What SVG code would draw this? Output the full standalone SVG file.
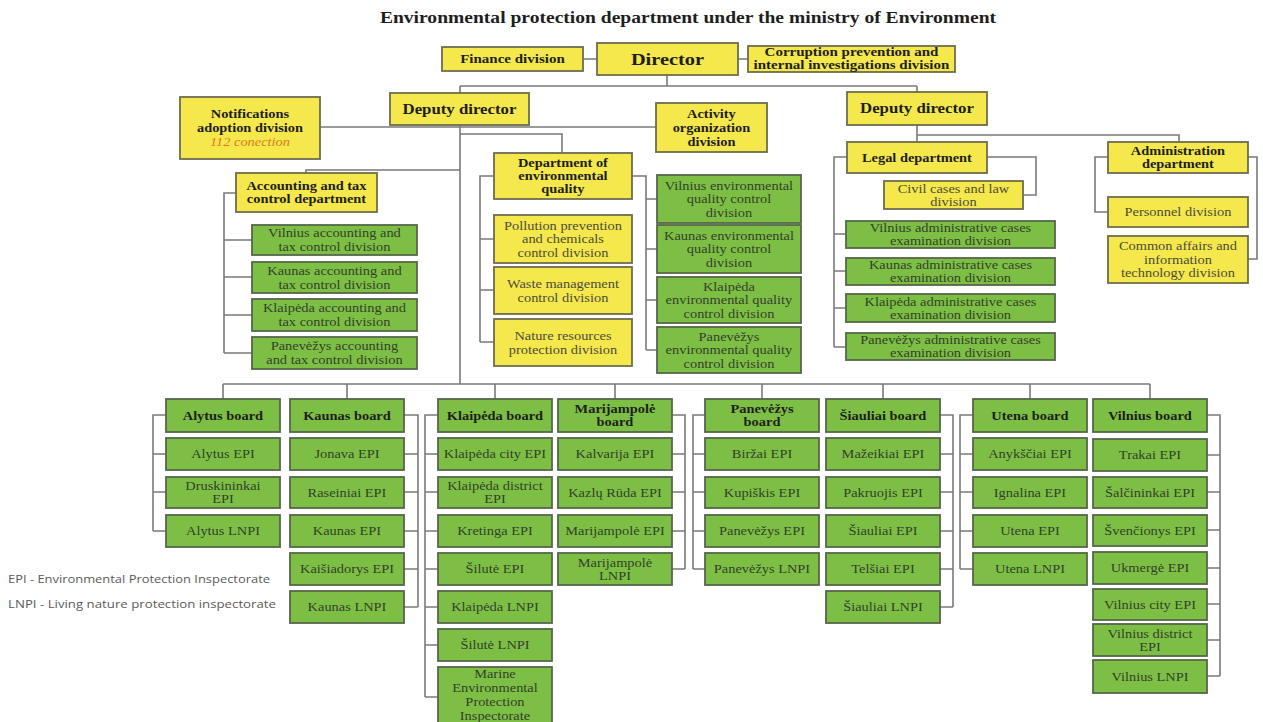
<svg xmlns="http://www.w3.org/2000/svg" width="1263" height="722" viewBox="0 0 1263 722">
<style>
.y{fill:#f4e84c;stroke:#6e6c4e;stroke-width:1.8}
.g{fill:#7dbf45;stroke:#56664a;stroke-width:1.8}
.c{fill:none;stroke:#7a7a7a;stroke-width:1.6}
text{font-family:"Liberation Serif","Times New Roman",serif;font-size:12px;fill:#33402a;text-anchor:middle;transform-box:fill-box;transform-origin:center;transform:scaleX(1.2)}
.b{font-weight:bold;fill:#1e1e1e}
.yt{fill:#4d4b38}
.o{font-style:italic;fill:#e07a1a;font-weight:normal}
.lg{font-family:"Open Sans","Liberation Sans",sans-serif;font-size:10px;fill:#5a5a5a;text-anchor:start;transform:none}
</style>
<rect width="1263" height="722" fill="#ffffff"/>
<text class="b" x="688" y="23" style="font-size:16.3px">Environmental protection department under the ministry of Environment</text>

<g id="connectors">
<path class="c" d="M583 59H597M738 59H748M667 75V86M460 86H917M460 86V93M917 86V92"/>
<path class="c" d="M320 127H656M460 125V384M460 134H562V153M460 170H306V173"/>
<path class="c" d="M236 193H224V353M224 240H252M224 277H252M224 315H252M224 353H252"/>
<path class="c" d="M494 176H480V342M480 239H494M480 290H494M480 342H494"/>
<path class="c" d="M632 176H646V350M646 199H657M646 249H657M646 300H657M646 350H657"/>
<path class="c" d="M917 125V142M917 135H1179V142"/>
<path class="c" d="M847 157H834V347M834 234H846M834 271H846M834 308H846M834 347H846M987 157H1036V195H1023"/>
<path class="c" d="M1108 157H1095V212H1108M1248 157H1257V259H1248"/>
<path class="c" d="M223 384H1150M223 384V399M347 384V399M495 384V399M615 384V399M762 384V399M883 384V399M1030 384V399M1150 384V399"/>
<path class="c" d="M166 415H153V531M153 454H166M153 492H166M153 531H166"/>
<path class="c" d="M404 415H418V607M404 454H418M404 492H418M404 531H418M404 569H418M404 607H418"/>
<path class="c" d="M438 415H425V697M425 454H438M425 492H438M425 531H438M425 569H438M425 607H438M425 645H438M425 697H438"/>
<path class="c" d="M672 415H685V569M672 454H685M672 492H685M672 531H685M672 569H685"/>
<path class="c" d="M705 415H693V569M693 454H705M693 492H705M693 531H705M693 569H705"/>
<path class="c" d="M940 415H953V607M940 454H953M940 492H953M940 531H953M940 569H953M940 607H953"/>
<path class="c" d="M973 415H960V569M960 454H973M960 492H973M960 531H973M960 569H973"/>
<path class="c" d="M1207 415H1220V676M1207 455H1220M1207 492H1220M1207 530H1220M1207 568H1220M1207 604H1220M1207 640H1220M1207 676H1220"/>
</g>

<g id="n-finance"><rect class="y" x="442" y="47" width="141" height="24"/><text class="b" x="512.5" y="63.3" style="font-size:12.5px">Finance division</text></g>
<g id="n-director"><rect class="y" x="597" y="43" width="141" height="32"/><text class="b" x="667.5" y="65" style="font-size:17px">Director</text></g>
<g id="n-corruption"><rect class="y" x="748" y="46" width="207" height="26"/><text class="b" x="851.5" style="font-size:12.5px"><tspan x="851.5" y="56.5">Corruption prevention and</tspan><tspan x="851.5" y="69.5">internal investigations division</tspan></text></g>
<g id="n-deputy1"><rect class="y" x="390" y="93" width="139" height="32"/><text class="b" x="459.5" y="114" style="font-size:14px">Deputy director</text></g>
<g id="n-deputy2"><rect class="y" x="847" y="92" width="140" height="33"/><text class="b" x="917" y="113.5" style="font-size:14px">Deputy director</text></g>
<g id="n-notifications"><rect class="y" x="180" y="97" width="140" height="62"/><text class="b" x="250"><tspan x="250" y="118.2">Notifications</tspan><tspan x="250" y="132.2">adoption division</tspan><tspan class="o" x="250" y="146.2">112 conection</tspan></text></g>
<g id="n-activity"><rect class="y" x="656" y="103" width="111" height="49"/><text class="b" x="711.5"><tspan x="711.5" y="117.7">Activity</tspan><tspan x="711.5" y="131.7">organization</tspan><tspan x="711.5" y="145.7">division</tspan></text></g>
<g id="n-envquality"><rect class="y" x="494" y="153" width="138" height="46"/><text class="b" x="563"><tspan x="563" y="167.2">Department of</tspan><tspan x="563" y="180.2">environmental</tspan><tspan x="563" y="193.2">quality</tspan></text></g>
<g id="n-accounting"><rect class="y" x="236" y="173" width="141" height="39"/><text class="b" x="306.5"><tspan x="306.5" y="190.2">Accounting and tax</tspan><tspan x="306.5" y="203.2">control department</tspan></text></g>

<g id="n-acc-vilnius"><rect class="g" x="252" y="225" width="165" height="30"/><text x="334.5"><tspan x="334.5" y="237.2">Vilnius accounting and</tspan><tspan x="334.5" y="251.2">tax control division</tspan></text></g>
<g id="n-acc-kaunas"><rect class="g" x="252" y="262" width="165" height="31"/><text x="334.5"><tspan x="334.5" y="274.7">Kaunas accounting and</tspan><tspan x="334.5" y="288.7">tax control division</tspan></text></g>
<g id="n-acc-klaipeda"><rect class="g" x="252" y="299" width="165" height="32"/><text x="334.5"><tspan x="334.5" y="312.2">Klaipėda accounting and</tspan><tspan x="334.5" y="326.2">tax control division</tspan></text></g>
<g id="n-acc-panevezys"><rect class="g" x="252" y="337" width="165" height="32"/><text x="334.5"><tspan x="334.5" y="350.2">Panevėžys accounting</tspan><tspan x="334.5" y="364.2">and tax control division</tspan></text></g>

<g id="n-pollution"><rect class="y" x="494" y="215" width="138" height="48"/><text class="yt" x="563"><tspan x="563" y="229.7">Pollution prevention</tspan><tspan x="563" y="243.2">and chemicals</tspan><tspan x="563" y="256.7">control division</tspan></text></g>
<g id="n-waste"><rect class="y" x="494" y="267" width="138" height="47"/><text class="yt" x="563"><tspan x="563" y="287.7">Waste management</tspan><tspan x="563" y="301.7">control division</tspan></text></g>
<g id="n-nature"><rect class="y" x="494" y="319" width="138" height="47"/><text class="yt" x="563"><tspan x="563" y="339.7">Nature resources</tspan><tspan x="563" y="353.7">protection division</tspan></text></g>

<g id="n-eq-vilnius"><rect class="g" x="657" y="175" width="144" height="48"/><text x="729"><tspan x="729" y="189.7">Vilnius environmental</tspan><tspan x="729" y="203.2">quality control</tspan><tspan x="729" y="216.7">division</tspan></text></g>
<g id="n-eq-kaunas"><rect class="g" x="657" y="225" width="144" height="48"/><text x="729"><tspan x="729" y="239.7">Kaunas environmental</tspan><tspan x="729" y="253.2">quality control</tspan><tspan x="729" y="266.7">division</tspan></text></g>
<g id="n-eq-klaipeda"><rect class="g" x="657" y="277" width="144" height="46"/><text x="729"><tspan x="729" y="290.7">Klaipėda</tspan><tspan x="729" y="304.2">environmental quality</tspan><tspan x="729" y="317.7">control division</tspan></text></g>
<g id="n-eq-panevezys"><rect class="g" x="657" y="327" width="144" height="46"/><text x="729"><tspan x="729" y="340.7">Panevėžys</tspan><tspan x="729" y="354.2">environmental quality</tspan><tspan x="729" y="367.7">control division</tspan></text></g>

<g id="n-legal"><rect class="y" x="847" y="142" width="140" height="31"/><text class="b" x="917" y="161.7">Legal department</text></g>
<g id="n-civil"><rect class="y" x="884" y="181" width="139" height="28"/><text class="yt" x="953.5"><tspan x="953.5" y="192.7">Civil cases and law</tspan><tspan x="953.5" y="205.7">division</tspan></text></g>
<g id="n-adm-vilnius"><rect class="g" x="846" y="221" width="209" height="27"/><text x="950.5"><tspan x="950.5" y="232.2">Vilnius administrative cases</tspan><tspan x="950.5" y="245.2">examination division</tspan></text></g>
<g id="n-adm-kaunas"><rect class="g" x="846" y="258" width="209" height="27"/><text x="950.5"><tspan x="950.5" y="269.2">Kaunas administrative cases</tspan><tspan x="950.5" y="282.2">examination division</tspan></text></g>
<g id="n-adm-klaipeda"><rect class="g" x="846" y="294" width="209" height="28"/><text x="950.5"><tspan x="950.5" y="305.7">Klaipėda administrative cases</tspan><tspan x="950.5" y="318.7">examination division</tspan></text></g>
<g id="n-adm-panevezys"><rect class="g" x="846" y="333" width="209" height="27"/><text x="950.5"><tspan x="950.5" y="344.2">Panevėžys administrative cases</tspan><tspan x="950.5" y="357.2">examination division</tspan></text></g>

<g id="n-administration"><rect class="y" x="1108" y="142" width="140" height="31"/><text class="b" x="1178"><tspan x="1178" y="155.2">Administration</tspan><tspan x="1178" y="168.2">department</tspan></text></g>
<g id="n-personnel"><rect class="y" x="1108" y="197" width="140" height="30"/><text class="yt" x="1178" y="216.2">Personnel division</text></g>
<g id="n-common"><rect class="y" x="1108" y="236" width="140" height="47"/><text class="yt" x="1178"><tspan x="1178" y="250.2">Common affairs and</tspan><tspan x="1178" y="263.7">information</tspan><tspan x="1178" y="277.2">technology division</tspan></text></g>

<!-- Alytus -->
<g id="n-alytus-board"><rect class="g" x="166" y="399" width="114" height="33"/><text class="b" x="223" y="419.7">Alytus board</text></g>
<g id="n-alytus-epi"><rect class="g" x="166" y="438" width="114" height="32"/><text x="223" y="458.2">Alytus EPI</text></g>
<g id="n-druskininkai"><rect class="g" x="166" y="477" width="114" height="31"/><text x="223"><tspan x="223" y="490.2">Druskininkai</tspan><tspan x="223" y="503.2">EPI</tspan></text></g>
<g id="n-alytus-lnpi"><rect class="g" x="166" y="515" width="114" height="32"/><text x="223" y="535.2">Alytus LNPI</text></g>
<!-- Kaunas -->
<g id="n-kaunas-board"><rect class="g" x="290" y="399" width="114" height="33"/><text class="b" x="347" y="419.7">Kaunas board</text></g>
<g id="n-jonava"><rect class="g" x="290" y="438" width="114" height="32"/><text x="347" y="458.2">Jonava EPI</text></g>
<g id="n-raseiniai"><rect class="g" x="290" y="477" width="114" height="31"/><text x="347" y="496.7">Raseiniai EPI</text></g>
<g id="n-kaunas-epi"><rect class="g" x="290" y="515" width="114" height="32"/><text x="347" y="535.2">Kaunas EPI</text></g>
<g id="n-kaisiadorys"><rect class="g" x="290" y="553" width="114" height="32"/><text x="347" y="573.2">Kaišiadorys EPI</text></g>
<g id="n-kaunas-lnpi"><rect class="g" x="290" y="591" width="114" height="32"/><text x="347" y="611.2">Kaunas LNPI</text></g>
<!-- Klaipeda -->
<g id="n-klaipeda-board"><rect class="g" x="438" y="399" width="114" height="33"/><text class="b" x="495" y="419.7">Klaipėda board</text></g>
<g id="n-klaipeda-city"><rect class="g" x="438" y="438" width="114" height="32"/><text x="495" y="458.2">Klaipėda city EPI</text></g>
<g id="n-klaipeda-district"><rect class="g" x="438" y="477" width="114" height="31"/><text x="495"><tspan x="495" y="490.2">Klaipėda district</tspan><tspan x="495" y="503.2">EPI</tspan></text></g>
<g id="n-kretinga"><rect class="g" x="438" y="515" width="114" height="32"/><text x="495" y="535.2">Kretinga EPI</text></g>
<g id="n-silute-epi"><rect class="g" x="438" y="553" width="114" height="32"/><text x="495" y="573.2">Šilutė EPI</text></g>
<g id="n-klaipeda-lnpi"><rect class="g" x="438" y="591" width="114" height="32"/><text x="495" y="611.2">Klaipėda LNPI</text></g>
<g id="n-silute-lnpi"><rect class="g" x="438" y="629" width="114" height="32"/><text x="495" y="649.2">Šilutė LNPI</text></g>
<g id="n-marine"><rect class="g" x="438" y="667" width="114" height="60"/><text x="495"><tspan x="495" y="678">Marine</tspan><tspan x="495" y="692">Environmental</tspan><tspan x="495" y="706">Protection</tspan><tspan x="495" y="720">Inspectorate</tspan></text></g>
<!-- Marijampole -->
<g id="n-marijampole-board"><rect class="g" x="558" y="399" width="114" height="33"/><text class="b" x="615"><tspan x="615" y="413.2">Marijampolė</tspan><tspan x="615" y="426.2">board</tspan></text></g>
<g id="n-kalvarija"><rect class="g" x="558" y="438" width="114" height="32"/><text x="615" y="458.2">Kalvarija EPI</text></g>
<g id="n-kazlu-ruda"><rect class="g" x="558" y="477" width="114" height="31"/><text x="615" y="496.7">Kazlų Rūda EPI</text></g>
<g id="n-marijampole-epi"><rect class="g" x="558" y="515" width="114" height="32"/><text x="615" y="535.2">Marijampolė EPI</text></g>
<g id="n-marijampole-lnpi"><rect class="g" x="558" y="553" width="114" height="32"/><text x="615"><tspan x="615" y="566.7">Marijampolė</tspan><tspan x="615" y="579.7">LNPI</tspan></text></g>
<!-- Panevezys -->
<g id="n-panevezys-board"><rect class="g" x="705" y="399" width="114" height="33"/><text class="b" x="762"><tspan x="762" y="413.2">Panevėžys</tspan><tspan x="762" y="426.2">board</tspan></text></g>
<g id="n-birzai"><rect class="g" x="705" y="438" width="114" height="32"/><text x="762" y="458.2">Biržai EPI</text></g>
<g id="n-kupiskis"><rect class="g" x="705" y="477" width="114" height="31"/><text x="762" y="496.7">Kupiškis EPI</text></g>
<g id="n-panevezys-epi"><rect class="g" x="705" y="515" width="114" height="32"/><text x="762" y="535.2">Panevėžys EPI</text></g>
<g id="n-panevezys-lnpi"><rect class="g" x="705" y="553" width="114" height="32"/><text x="762" y="573.2">Panevėžys LNPI</text></g>
<!-- Siauliai -->
<g id="n-siauliai-board"><rect class="g" x="826" y="399" width="114" height="33"/><text class="b" x="883" y="419.7">Šiauliai board</text></g>
<g id="n-mazeikiai"><rect class="g" x="826" y="438" width="114" height="32"/><text x="883" y="458.2">Mažeikiai EPI</text></g>
<g id="n-pakruojis"><rect class="g" x="826" y="477" width="114" height="31"/><text x="883" y="496.7">Pakruojis EPI</text></g>
<g id="n-siauliai-epi"><rect class="g" x="826" y="515" width="114" height="32"/><text x="883" y="535.2">Šiauliai EPI</text></g>
<g id="n-telsiai"><rect class="g" x="826" y="553" width="114" height="32"/><text x="883" y="573.2">Telšiai EPI</text></g>
<g id="n-siauliai-lnpi"><rect class="g" x="826" y="591" width="114" height="32"/><text x="883" y="611.2">Šiauliai LNPI</text></g>
<!-- Utena -->
<g id="n-utena-board"><rect class="g" x="973" y="399" width="114" height="33"/><text class="b" x="1030" y="419.7">Utena board</text></g>
<g id="n-anyksciai"><rect class="g" x="973" y="438" width="114" height="32"/><text x="1030" y="458.2">Anykščiai EPI</text></g>
<g id="n-ignalina"><rect class="g" x="973" y="477" width="114" height="31"/><text x="1030" y="496.7">Ignalina EPI</text></g>
<g id="n-utena-epi"><rect class="g" x="973" y="515" width="114" height="32"/><text x="1030" y="535.2">Utena EPI</text></g>
<g id="n-utena-lnpi"><rect class="g" x="973" y="553" width="114" height="32"/><text x="1030" y="573.2">Utena LNPI</text></g>
<!-- Vilnius -->
<g id="n-vilnius-board"><rect class="g" x="1093" y="399" width="114" height="33"/><text class="b" x="1150" y="419.7">Vilnius board</text></g>
<g id="n-trakai"><rect class="g" x="1093" y="439" width="114" height="32"/><text x="1150" y="459.2">Trakai EPI</text></g>
<g id="n-salcininkai"><rect class="g" x="1093" y="477" width="114" height="31"/><text x="1150" y="496.7">Šalčininkai EPI</text></g>
<g id="n-svencionys"><rect class="g" x="1093" y="515" width="114" height="31"/><text x="1150" y="534.7">Švenčionys EPI</text></g>
<g id="n-ukmerge"><rect class="g" x="1093" y="552" width="114" height="32"/><text x="1150" y="572.2">Ukmergė EPI</text></g>
<g id="n-vilnius-city"><rect class="g" x="1093" y="589" width="114" height="31"/><text x="1150" y="608.7">Vilnius city EPI</text></g>
<g id="n-vilnius-district"><rect class="g" x="1093" y="624" width="114" height="32"/><text x="1150"><tspan x="1150" y="637.7">Vilnius district</tspan><tspan x="1150" y="650.7">EPI</tspan></text></g>
<g id="n-vilnius-lnpi"><rect class="g" x="1093" y="660" width="114" height="33"/><text x="1150" y="680.7">Vilnius LNPI</text></g>

<g id="legend">
<text class="lg" x="8" y="583" textLength="262" lengthAdjust="spacingAndGlyphs">EPI - Environmental Protection Inspectorate</text>
<text class="lg" x="8" y="608" textLength="268" lengthAdjust="spacingAndGlyphs">LNPI - Living nature protection inspectorate</text>
</g>
</svg>
